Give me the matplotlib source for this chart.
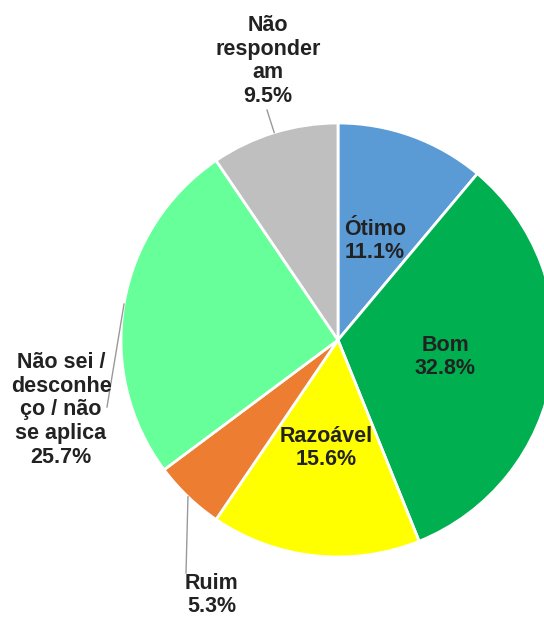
import numpy as np
import matplotlib
matplotlib.use('Agg')
import matplotlib.pyplot as plt

# data
labels = ['Ótimo', 'Bom', 'Razoável', 'Ruim',
          'Não sei /\ndesconhe\nço / não\nse aplica', 'Não\nresponder\nam']
values = [11.1, 32.8, 15.6, 5.3, 25.7, 9.5]
colors = ['#5B9BD5', '#00B050', '#FFFF00', '#ED7D31', '#66FF99', '#BFBFBF']

W, H = 544, 617
CX, CY, R = 338, 340, 217   # pie centre / radius in pixels (y from top)

plt.rcParams['font.family'] = ['Liberation Sans', 'DejaVu Sans']

fig = plt.figure(figsize=(W / 100, H / 100), dpi=100)
ax = fig.add_axes([0, 0, 1, 1])

ax.pie(values, colors=colors, startangle=90, counterclock=False,
       center=(CX, H - CY), radius=R,
       wedgeprops=dict(edgecolor='white', linewidth=2))
ax.set_xlim(0, W)
ax.set_ylim(0, H)
ax.set_aspect('equal')
ax.axis('off')

txt = dict(fontsize=15.5, fontweight='bold', color='#222222',
           ha='center', va='center', linespacing=1.17)

total = sum(values)
cum = np.cumsum([0] + values)
mids = [(cum[i] + cum[i + 1]) / 2 / total * 360 for i in range(len(values))]


def polar(theta, r):
    # theta clockwise from the top, returns data coords
    t = np.radians(theta)
    return CX + r * np.sin(t), H - (CY - r * np.cos(t))


# labels inside the big slices
for i in range(3):
    x, y = polar(mids[i], 0.5 * R)
    ax.text(x, y + (-3 if i == 0 else 0), f'{labels[i]}\n{values[i]:.1f}%', **txt)

# outside labels with leader lines: (line end, text centre) in pixels
outside = {
    3: ((186, 573), (212, 595)),
    4: ((107, 407), (61, 410)),
    5: ((267, 110), (268, 61)),
}
for i, ((ex, ey), (tx, ty)) in outside.items():
    sx, sy = polar(mids[i], 1.0 * R)
    ax.plot([sx, ex], [sy, H - ey], color='#999999', lw=1)
    ax.text(tx, H - ty, f'{labels[i]}\n{values[i]:.1f}%', **txt)

fig.savefig('out.png', dpi=100)
